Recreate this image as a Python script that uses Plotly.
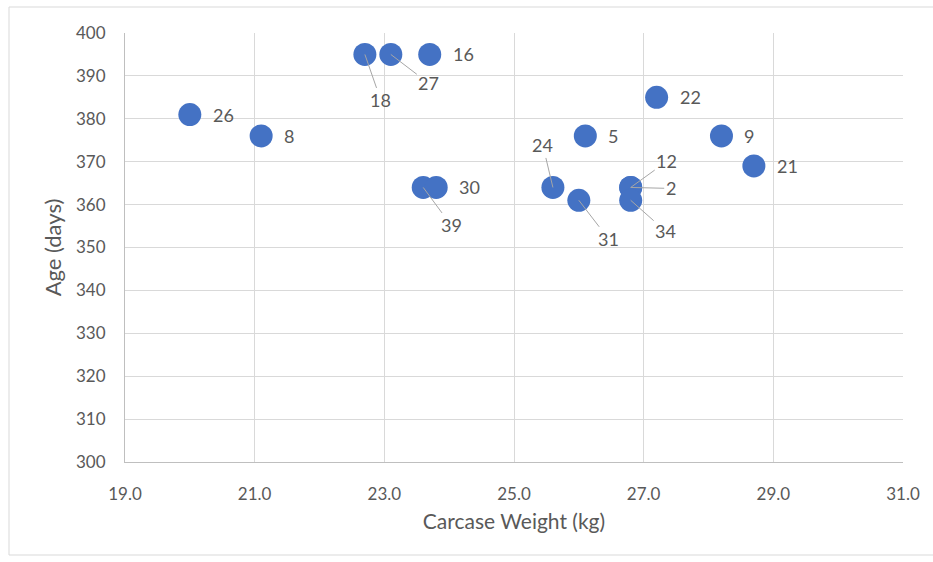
import plotly.graph_objects as go

# Carcase weight (kg) and age (days) per animal, labelled by animal ID
ids = ["26", "8", "18", "27", "16", "39", "30", "24", "31", "5", "12", "2", "34", "22", "9", "21"]
weight = [20.0, 21.1, 22.7, 23.1, 23.7, 23.6, 23.8, 25.6, 26.0, 26.1, 26.8, 26.8, 26.8, 27.2, 28.2, 28.7]
age = [381, 376, 395, 395, 395, 364, 364, 364, 361, 376, 364, 364, 361, 385, 376, 369]

x_ticks = [19.0, 21.0, 23.0, 25.0, 27.0, 29.0, 31.0]
y_ticks = [300, 310, 320, 330, 340, 350, 360, 370, 380, 390, 400]

# Label placement: (dx, dy) pixel offsets for labels joined by a leader line
label_style = {
    "18": (16, 46),
    "27": (38, 29),
    "39": (28, 38),
    "24": (-10, -42),
    "31": (30, 39),
    "12": (36, -26),
    "2": (40, 1),
    "34": (35, 31),
}

BLUE = "#4472C4"
GREY_TEXT = "#595959"
GRID = "#D9D9D9"
FONT = "Lato, 'Open Sans', sans-serif"

fig = go.Figure()
fig.add_trace(go.Scatter(
    x=weight, y=age, mode="markers",
    marker=dict(size=23, color=BLUE, line=dict(width=0)),
    hoverinfo="x+y+text", text=ids, showlegend=False,
))

annotations = []
for lab, xv, yv in zip(ids, weight, age):
    if lab in label_style:
        dx, dy = label_style[lab]
        annotations.append(dict(
            x=xv, y=yv, xref="x", yref="y", text=lab,
            showarrow=True, ax=dx, ay=dy, arrowhead=0, arrowwidth=1,
            arrowcolor="#A6A6A6", standoff=0, startstandoff=0,
            font=dict(family=FONT, size=18, color=GREY_TEXT),
        ))
    else:
        annotations.append(dict(
            x=xv, y=yv, xref="x", yref="y", text=lab,
            showarrow=False, xanchor="left", xshift=21,
            font=dict(family=FONT, size=18, color=GREY_TEXT),
        ))

W, H = 933, 562
ML, MR, MT, MB = 125, 30, 33, 100
pw, ph = W - ML - MR, H - MT - MB

fig.update_layout(
    width=W, height=H,
    margin=dict(l=ML, r=MR, t=MT, b=MB),
    paper_bgcolor="white", plot_bgcolor="white",
    font=dict(family=FONT, color=GREY_TEXT),
    annotations=annotations,
    shapes=[dict(
        type="rect", xref="paper", yref="paper",
        x0=(9 - ML) / pw, x1=(W + 2 - ML) / pw,
        y0=(H - 555 - MB) / ph, y1=(H - 7 - MB) / ph,
        line=dict(color="#D9D9D9", width=1), layer="below",
    )],
    xaxis=dict(
        range=[19, 31], tickvals=x_ticks, tickformat=".1f",
        showgrid=True, gridcolor=GRID, gridwidth=1,
        zeroline=False, showline=True, linecolor="#BFBFBF", linewidth=1,
        ticks="", ticklabelstandoff=17, tickfont=dict(size=17, color=GREY_TEXT),
        title=dict(text="Carcase Weight (kg)", font=dict(size=21, color=GREY_TEXT), standoff=10),
    ),
    yaxis=dict(
        range=[300, 400], tickvals=y_ticks,
        showgrid=True, gridcolor=GRID, gridwidth=1,
        zeroline=False, showline=True, linecolor="#BFBFBF", linewidth=1,
        ticks="", ticklabelstandoff=15, tickfont=dict(size=17, color=GREY_TEXT),
        title=dict(text="Age (days)", font=dict(size=22, color=GREY_TEXT), standoff=8),
    ),
)

fig.write_html("out.html")
